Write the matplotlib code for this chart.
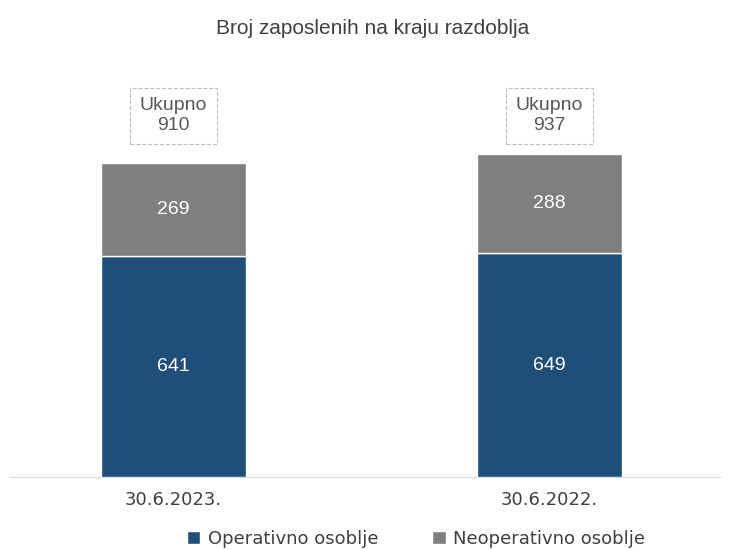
import matplotlib.pyplot as plt

categories = ['30.6.2023.', '30.6.2022.']
operativno = [641, 649]
neoperativno = [269, 288]
ukupno = [910, 937]

plt.rcParams['font.family'] = ['Liberation Sans', 'DejaVu Sans']

fig = plt.figure(figsize=(7.29, 5.49), dpi=100)
ax = fig.add_axes([10 / 729, 1 - 477 / 549, 710 / 729, (477 - 63.2) / 549])

x = [0, 1]
blue = '#1F4E79'
gray = '#7F7F7F'
b1 = ax.bar(x, operativno, width=145 / 376, color=blue, edgecolor='white', linewidth=1,
            label='Operativno osoblje')
b2 = ax.bar(x, neoperativno, width=145 / 376, bottom=operativno, color=gray,
            edgecolor='white', linewidth=1, label='Neoperativno osoblje')
ax.bar_label(b1, label_type='center', color='white', fontsize=14)
ax.bar_label(b2, label_type='center', color='white', fontsize=14)

for xi, tot in zip(x, ukupno):
    ax.text(xi, 1048, 'Ukupno\n' + str(tot), ha='center', va='center', fontsize=14,
            color='#595959', linespacing=1.2,
            bbox=dict(boxstyle='square,pad=0.5', facecolor='white', edgecolor='#BFBFBF',
                      linestyle='--', linewidth=0.8))

ax.set_xlim(-0.435, 1.453)
ax.set_ylim(0, 1200)
ax.set_xticks(x)
ax.set_xticklabels(categories, fontsize=13, color='#404040', family='DejaVu Sans')
ax.tick_params(axis='x', length=0, pad=10)
ax.set_yticks([])
for s in ['top', 'right', 'left']:
    ax.spines[s].set_visible(False)
ax.spines['bottom'].set_color('#D9D9D9')

fig.text(373 / 729, 1 - 28 / 549, 'Broj zaposlenih na kraju razdoblja', ha='center',
         va='center', fontsize=15, color='#404040')

fig.legend(handles=[b1, b2], loc='center', bbox_to_anchor=(416 / 729, 1 - 539 / 549),
           ncol=2, frameon=False, prop={'family': 'DejaVu Sans', 'size': 13},
           handlelength=0.75, handleheight=0.75, handletextpad=0.4, columnspacing=3,
           labelcolor='#404040')

plt.savefig('out.png')
